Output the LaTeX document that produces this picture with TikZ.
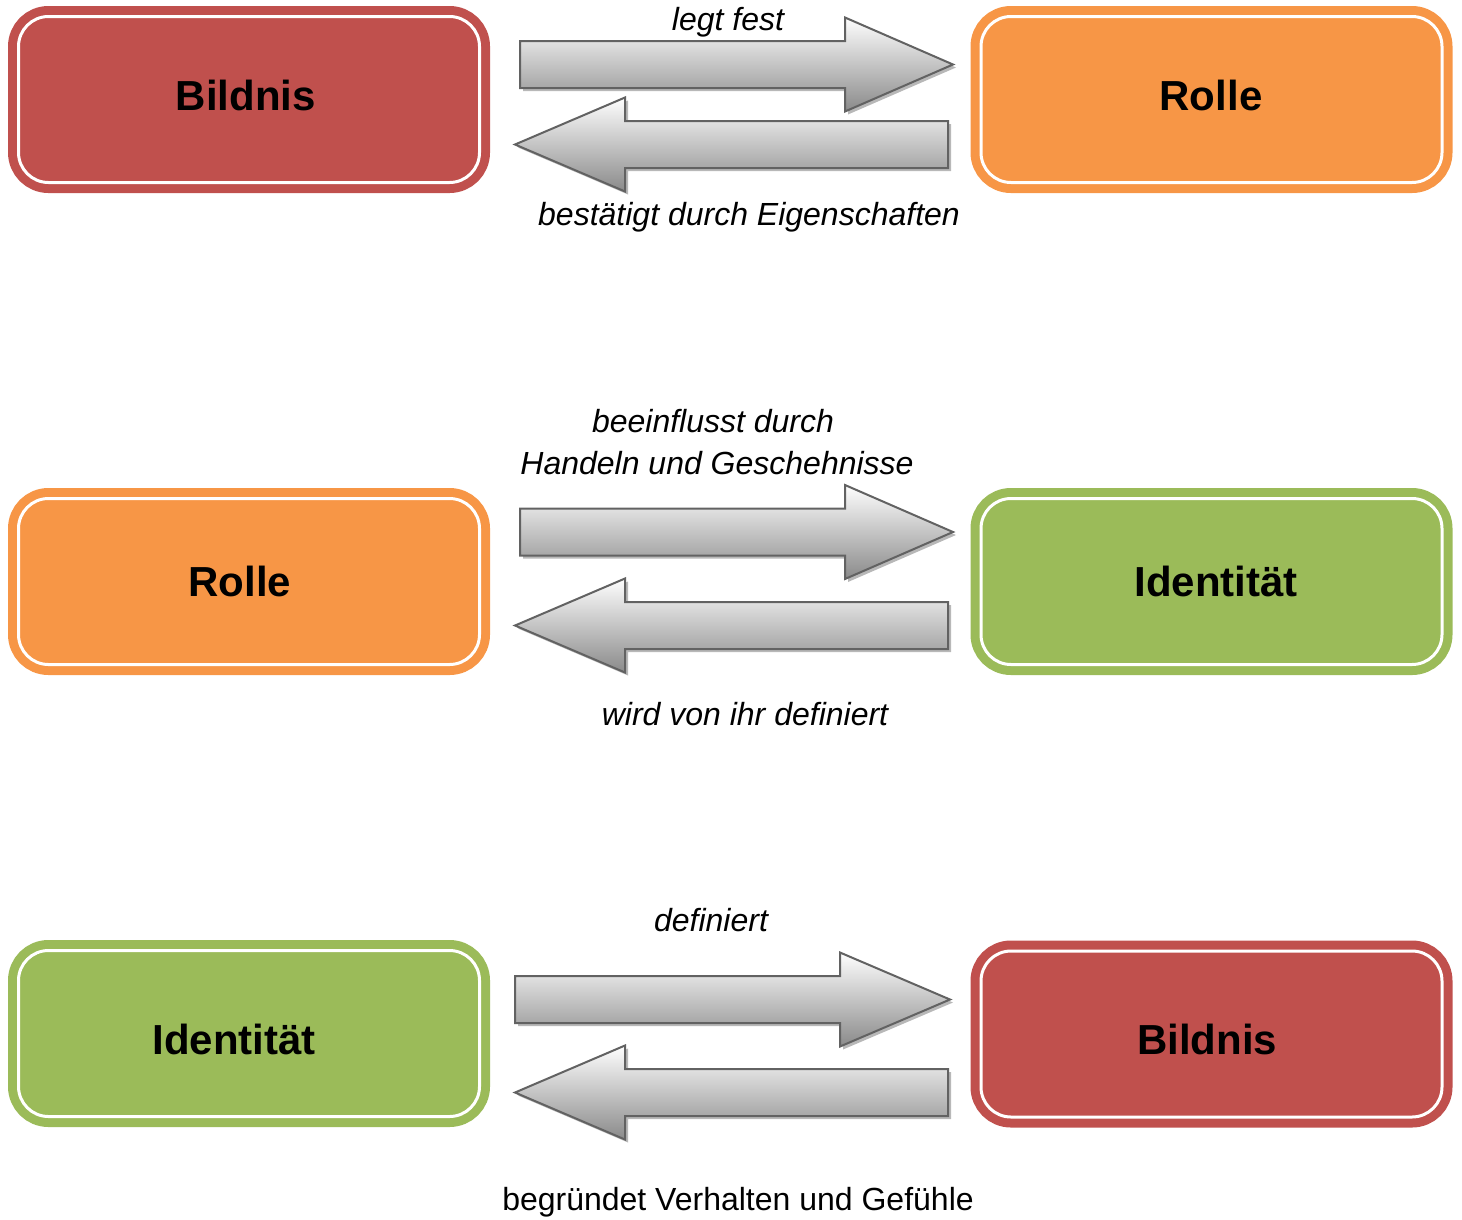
\documentclass[tikz,border=0pt]{standalone}
\usepackage{fontspec}
\setmainfont{Liberation Sans}
\usetikzlibrary{shadows}
\definecolor{cred}{HTML}{C0504D}
\definecolor{corange}{HTML}{F79646}
\definecolor{cgreen}{HTML}{9BBB59}
\definecolor{aline}{HTML}{626262}
\definecolor{atop}{HTML}{FEFEFE}
\definecolor{amid}{HTML}{E2E2E2}
\definecolor{abot}{HTML}{8A8A8A}
\tikzset{
  box/.style={draw=#1, fill=#1, line width=9pt, double=white, double distance=3pt,
    rounded corners=30pt, minimum width=461pt, minimum height=166pt, inner sep=0pt},
  boxtext/.style={font=\bfseries\fontsize{42}{50}\selectfont, inner sep=0pt, anchor=base},
  blockarrow/.style={draw=aline, line width=2pt, line join=miter, top color=atop, middle color=amid, bottom color=abot,
    drop shadow={shadow xshift=3pt, shadow yshift=-3pt, fill=black, opacity=0.28}},
  lab/.style={font=\itshape\fontsize{32}{40}\selectfont, inner sep=0pt, anchor=base},
  labup/.style={font=\fontsize{32}{40}\selectfont, inner sep=0pt, anchor=base}
}
\newcommand\rarr[4]{% xl, xh, xt, yc
  \path[blockarrow] (#1,{#4-23.5}) -- (#2,{#4-23.5}) -- (#2,{#4-47}) -- (#3,#4) -- (#2,{#4+47}) -- (#2,{#4+23.5}) -- (#1,{#4+23.5}) -- cycle;}
\newcommand\larr[4]{% xr, xh, xt, yc
  \path[blockarrow] (#1,{#4-23.5}) -- (#2,{#4-23.5}) -- (#2,{#4-47}) -- (#3,#4) -- (#2,{#4+47}) -- (#2,{#4+23.5}) -- (#1,{#4+23.5}) -- cycle;}
\begin{document}
\begin{tikzpicture}[x=1pt, y=-1pt]
\useasboundingbox (0,0) rectangle (1462,1219);
% boxes
\node[box=cred]    (b1) at (249,99.5)  {};
\node[box=corange] (r1) at (1211.5,99.5) {};
\node[box=corange] (r2) at (249,581.5) {};
\node[box=cgreen]  (i2) at (1211.5,581.5) {};
\node[box=cgreen]  (i3) at (249,1033.5) {};
\node[box=cred]    (b3) at (1211.5,1034) {};
% box texts (baselines)
\node[boxtext] (b1t) at (246,110) {Bildnis};
\node[boxtext] (r1t) at (1211,110) {Rolle};
\node[boxtext] (r2t) at (240,596) {Rolle};
\node[boxtext] (i2t) at (1216,596) {Identität};
\node[boxtext] (i3t) at (234,1054) {Identität};
\node[boxtext] (b3t) at (1207,1054) {Bildnis};
% arrows
\rarr{520}{845}{953}{64.5}
\larr{948}{625}{515}{144.5}
\rarr{520}{845}{953}{532}
\larr{948}{625}{515}{625.5}
\rarr{515}{840}{950}{999.5}
\larr{948}{625}{515}{1092.5}
% labels (baselines)
\node[lab] (l1) at (728,30) {legt fest};
\node[lab] (l2) at (749,225) {bestätigt durch Eigenschaften};
\node[lab] (l3) at (713,432) {beeinflusst durch};
\node[lab] (l4) at (717,474) {Handeln und Geschehnisse};
\node[lab] (l5) at (745,725) {wird von ihr definiert};
\node[lab] (l6) at (711,931) {definiert};
\node[labup] (l7) at (738,1210) {begründet Verhalten und Gefühle};
\end{tikzpicture}
\end{document}
